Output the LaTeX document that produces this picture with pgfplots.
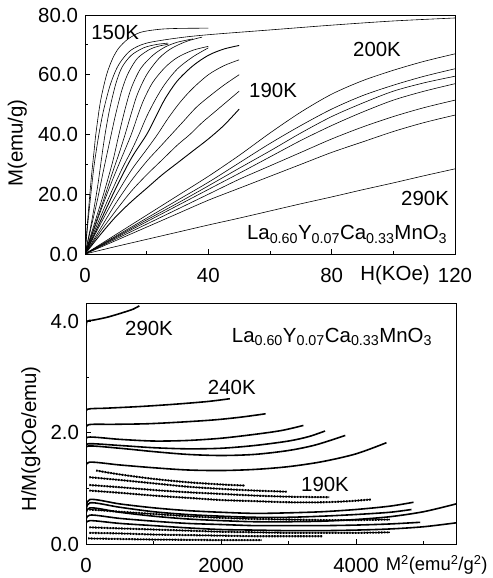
\documentclass[border=0pt]{standalone}
\usepackage{fontspec}
\setmainfont{Liberation Sans}
\usepackage{pgfplots}
\pgfplotsset{compat=1.18}
\pgfplotsset{
  panel/.style={
    scale only axis, width=370bp, anchor=south west,
    clip mode=individual,
    tick pos=left, tick align=inside,
    major tick length=5bp, minor tick length=3bp,
    axis line style={line width=0.9pt},
    every tick/.style={black, line width=0.8pt},
    tick label style={font=\fontsize{20.5}{23}\selectfont},
    /pgf/number format/assume math mode=true,
    xticklabel style={yshift=-7bp, /pgf/number format/1000 sep={}},
    yticklabel style={/pgf/number format/.cd, fixed, fixed zerofill, precision=1, assume math mode=true},
  },
  crv/.style={black, line width=0.6pt, smooth, no markers},
  thk/.style={black, line width=1.6pt, smooth, no markers},
  dtt/.style={black, line width=1.0pt, smooth, no markers,
     postaction={draw, line width=2.1pt, dash pattern=on 1.4pt off 1.5pt}},
}
\begin{document}
\fontsize{20.5}{23}\selectfont
\begin{tikzpicture}[font=\fontsize{20.5}{23}\selectfont]
\useasboundingbox (0,0) rectangle (493bp,578bp);
% ---------------- top panel ----------------
\begin{axis}[panel, at={(85bp,324bp)}, height=239bp,
  xmin=0, xmax=120, ymin=0, ymax=80,
  xtick={0,40,80,120}, minor xtick={20,60,100},
  ytick={0,20,40,60,80}, minor ytick={10,30,50,70}]
% 150K
\addplot[crv] coordinates {(0,0)(1,13)(2,25)(3,35)(3.5,40)(5,51)(7,60)(9,65.5)(11,69)(14,72)(18,74.2)(24,75.2)(30,75.5)(40,75.6)};
% long curve to 120
\addplot[crv] coordinates {(0,0)(1,11)(2,21)(3,30)(4.5,40)(6,48)(8,56)(10,61.5)(12,65)(15,68.3)(20,70.6)(30,72.3)(40,73.4)(60,75)(80,76.6)(100,78)(120,79)};
\addplot[crv] coordinates {(0,0)(2,10)(4,22)(5.5,33)(6.5,40)(8,48.5)(10,57)(12,62.5)(15,66.5)(19,69)(23,70.1)(27,70.6)};
\addplot[crv] coordinates {(0,0)(2,9)(4,18)(6,28)(8.5,40)(10,47)(12,55)(14,60.5)(17,65.5)(21,68.5)(24,69.6)(27,70.2)};
\addplot[crv] coordinates {(0,0)(3,10)(6,20)(9,31)(11,40)(13,48.5)(15,55.5)(18,62)(22,66.5)(26,69.3)(30,70.9)(35,72)};
\addplot[crv] coordinates {(0,0)(3,9)(6,18)(9,27.5)(11,33.5)(13,40)(15,47)(17,53.5)(20,60)(24,65.5)(28,68.8)(33,71.2)(38,72.6)};
\addplot[crv] coordinates {(0,0)(3,8.5)(6,17)(9,25)(12,32.5)(15,40)(17,46)(19,51.5)(22,57.5)(26,62.5)(30,65.8)(35,68.2)(40,69.5)};
\addplot[crv] coordinates {(0,0)(4,10)(8,19.5)(12,28.5)(15,34.5)(17.5,40)(20,46)(23,52)(26,57)(30,62)(35,66)(40,69)};
\addplot[crv, line width=0.9pt] coordinates {(0,0)(5,11)(10,22)(15,32)(20,40)(23,46)(26,52)(30,58)(35,63)(40,66.5)(45,68.6)(50,69.8)};
\addplot[crv] coordinates {(0,0)(5,10)(10,19.5)(15,28)(20,35)(23.5,40)(27,45.5)(31,51)(35,55.5)(40,60)(45,63)(50,65)};
\addplot[crv] coordinates {(0,0)(5,8.5)(10,17)(15,24.5)(20,31)(24,35.5)(28,40)(32,44.5)(36,49)(40,52.5)(45,56.5)(50,60)};
\addplot[crv] coordinates {(0,0)(5,7.5)(10,14.5)(15,21)(20,26.5)(25,31.5)(30,36.5)(34,40)(38,44)(42,47.5)(46,51)(50,54.5)};
% 190K
\addplot[crv, line width=0.9pt] coordinates {(0,0)(5,6.5)(10,12.5)(15,17.5)(20,22)(25,26.5)(30,30.5)(35,34.5)(40,38.5)(45,43)(50,48.5)};
% 200K
\addplot[crv] coordinates {(0,0)(10,6.5)(20,13)(30,19.5)(40,26)(50,33)(60,40.5)(70,47.5)(80,53.5)(90,58)(100,61.5)(110,64.5)(120,67)};
\addplot[crv] coordinates {(0,0)(10,6)(20,12)(30,18)(40,24)(50,30.5)(60,37)(70,43)(80,48.5)(90,53)(100,56.5)(110,59.5)(120,62)};
\addplot[crv] coordinates {(0,0)(10,5.7)(20,11.4)(30,17)(40,22.8)(50,28.7)(60,34.5)(70,40.5)(80,46)(90,50.5)(100,54.5)(110,57.3)(120,59.5)};
\addplot[crv] coordinates {(0,0)(10,5.4)(20,10.8)(30,16.2)(40,21.6)(50,27)(60,32.5)(70,38)(80,43)(90,47.5)(100,51.5)(110,54.5)(120,57)};
\addplot[crv] coordinates {(0,0)(10,5)(20,10)(30,15)(40,20)(50,25)(60,29.5)(70,34)(80,38.5)(90,42.5)(100,46)(110,49)(120,51.5)};
% 240K
\addplot[crv] coordinates {(0,0)(10,4.5)(20,9)(30,13.5)(40,18)(50,22)(60,26)(70,30)(80,34)(90,37.5)(100,41)(110,44)(120,46.5)};
% 290K
\addplot[crv] coordinates {(0,0)(10,2.5)(20,4.9)(30,7.3)(40,9.7)(50,12)(60,14.4)(70,16.8)(80,19.1)(90,21.5)(100,23.8)(110,26.2)(120,28.5)};
\node at (axis cs:9.8,74.3) {150K};
\node at (axis cs:94.7,68.3) {200K};
\node at (axis cs:61,54.9) {190K};
\node at (axis cs:110.3,18.6) {290K};
\node[anchor=base west, inner sep=0pt] at (axis cs:52.5,4.7) {La\textsubscript{0.60}Y\textsubscript{0.07}Ca\textsubscript{0.33}MnO\textsubscript{3}};
\node[rotate=90] at (axis description cs:-0.183,0.464) {M(emu/g)};
\node at (axis description cs:0.838,-0.088) {H(KOe)};
\end{axis}
% ---------------- bottom panel ----------------
\begin{axis}[panel, at={(86bp,34bp)}, height=241bp,
  xmin=0, xmax=5480, ymin=0, ymax=4.33,
  xtick={0,2000,4000}, minor xtick={1000,3000,5000},
  ytick={0,2,4}, minor ytick={1,3}]
% solid thick (to 120 kOe)
\addplot[thk] coordinates {(0,3.85)(15,4.0)(100,4.02)(300,4.07)(500,4.14)(700,4.22)(790,4.28)};
\addplot[thk] coordinates {(0,2.3)(20,2.42)(300,2.44)(800,2.47)(1300,2.51)(1800,2.56)(2130,2.61)};
\addplot[thk] coordinates {(0,2.0)(30,2.14)(400,2.15)(900,2.16)(1400,2.19)(1900,2.23)(2300,2.28)(2660,2.34)};
\addplot[thk] coordinates {(0,1.8)(30,1.92)(500,1.88)(1000,1.85)(1500,1.86)(2000,1.9)(2500,1.97)(2900,2.04)(3220,2.13)};
\addplot[thk] coordinates {(0,1.7)(30,1.8)(500,1.77)(1000,1.73)(1500,1.71)(2000,1.72)(2500,1.77)(3000,1.85)(3300,1.93)(3540,2.03)};
\addplot[thk] coordinates {(0,1.65)(30,1.76)(500,1.72)(1000,1.66)(1500,1.61)(2000,1.59)(2500,1.61)(3000,1.68)(3400,1.78)(3840,1.95)};
\addplot[thk] coordinates {(0,1.35)(50,1.47)(500,1.42)(1000,1.37)(1500,1.33)(2000,1.32)(2500,1.34)(3000,1.39)(3500,1.48)(4000,1.62)(4450,1.82)};
% dotted (to 50 kOe)
\addplot[dtt] coordinates {(150,1.32)(500,1.25)(1000,1.17)(1500,1.11)(2000,1.07)(2350,1.05)};
\addplot[dtt] coordinates {(50,1.2)(500,1.15)(1000,1.09)(1500,1.03)(2000,0.99)(2500,0.96)(2970,0.94)};
\addplot[dtt] coordinates {(50,1.06)(500,1.02)(1000,0.97)(1500,0.93)(2000,0.9)(2500,0.87)(3000,0.85)(3600,0.84)};
\addplot[dtt] coordinates {(50,0.96)(500,0.92)(1000,0.87)(1500,0.83)(2000,0.79)(2500,0.77)(3000,0.75)(3500,0.75)(3900,0.77)(4220,0.8)};
% thick low curves
\addplot[thk] coordinates {(0,0.6)(60,0.8)(500,0.72)(1000,0.65)(1500,0.6)(2000,0.57)(2500,0.55)(3000,0.56)(3500,0.58)(4000,0.62)(4500,0.68)(4850,0.75)};
\addplot[thk] coordinates {(0,0.55)(60,0.74)(500,0.66)(1000,0.58)(1500,0.53)(2000,0.5)(2500,0.48)(3000,0.48)(3500,0.5)(4000,0.53)(4500,0.57)(4820,0.62)};
\addplot[thk] coordinates {(0,0.5)(60,0.65)(500,0.57)(1000,0.5)(1500,0.45)(2000,0.42)(2500,0.4)(3000,0.4)(3500,0.41)(4000,0.44)(4500,0.49)(5000,0.58)(5480,0.72)};
\addplot[thk] coordinates {(0,0.4)(60,0.52)(500,0.46)(1000,0.41)(1500,0.37)(2000,0.35)(2500,0.33)(3000,0.33)(3500,0.33)(4000,0.34)(4500,0.36)(4950,0.39)};
\addplot[thk] coordinates {(0,0.35)(60,0.42)(500,0.37)(1000,0.33)(1500,0.29)(2000,0.26)(2500,0.25)(3000,0.24)(3500,0.24)(4000,0.25)(4500,0.27)(5000,0.31)(5480,0.38)};
% dotted low curves
\addplot[dtt] coordinates {(50,0.62)(500,0.58)(1000,0.54)(1500,0.5)(2000,0.47)(2500,0.45)(3000,0.44)(3500,0.43)(4000,0.43)(4500,0.44)};
\addplot[dtt] coordinates {(50,0.3)(500,0.28)(1000,0.26)(1500,0.24)(2000,0.22)(2500,0.21)(3000,0.2)(3500,0.2)(4000,0.2)(4500,0.21)};
\addplot[dtt] coordinates {(50,0.2)(500,0.19)(1000,0.17)(1500,0.16)(2000,0.15)(2500,0.14)(3000,0.14)(3500,0.14)};
\addplot[dtt] coordinates {(30,0.1)(500,0.09)(1000,0.08)(1500,0.075)(2000,0.07)(2600,0.07)};
\node at (axis cs:933,3.88) {290K};
\node at (axis cs:2160,2.81) {240K};
\node at (axis cs:3540,1.07) {190K};
\node[anchor=base west, inner sep=0pt] at (axis cs:2158,3.62) {La\textsubscript{0.60}Y\textsubscript{0.07}Ca\textsubscript{0.33}MnO\textsubscript{3}};
\node[rotate=90] at (axis description cs:-0.149,0.436) {H/M(gkOe/emu)};
\node[anchor=east, inner sep=0pt, font=\fontsize{18.5}{21}\selectfont] at (axis description cs:1.086,-0.087) {M\textsuperscript{2}(emu\textsuperscript{2}/g\textsuperscript{2})};
\end{axis}
\end{tikzpicture}
\end{document}
